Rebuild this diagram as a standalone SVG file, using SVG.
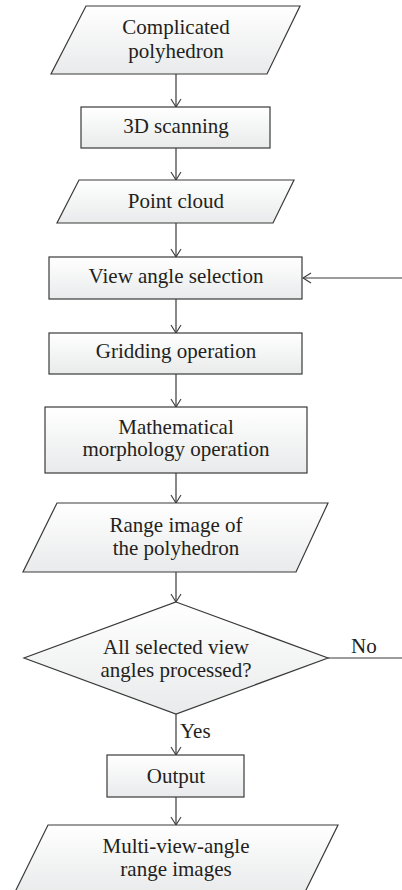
<svg xmlns="http://www.w3.org/2000/svg" width="402" height="890" viewBox="0 0 402 890">
<defs>
<linearGradient id="g" x1="0" y1="0" x2="0" y2="1">
<stop offset="0" stop-color="#ffffff"/>
<stop offset="1" stop-color="#e9eaeb"/>
</linearGradient>
<marker id="arr" viewBox="0 0 10 12" refX="9" refY="6" markerWidth="10" markerHeight="12" markerUnits="userSpaceOnUse" orient="auto">
<path d="M1,1 L9,6 L1,11" fill="none" stroke="#3a3a3a" stroke-width="1.1"/>
</marker>
</defs>
<style>
.s{fill:url(#g);stroke:#3a3a3a;stroke-width:1.2}
.t{font-family:"Liberation Serif","Times New Roman",serif;font-size:21px;fill:#231f20;text-anchor:middle}
.l{font-family:"Liberation Serif","Times New Roman",serif;font-size:21px;fill:#231f20}
.c{fill:none;stroke:#3a3a3a;stroke-width:1.2;marker-end:url(#arr)}
.n{fill:none;stroke:#3a3a3a;stroke-width:1.2}
</style>
<rect width="402" height="890" fill="#ffffff"/>
<g id="connectors">
<path class="c" d="M176,74 V107"/>
<path class="c" d="M176,148 V180"/>
<path class="c" d="M176,223 V257"/>
<path class="c" d="M176,299 V333"/>
<path class="c" d="M176,374 V407"/>
<path class="c" d="M176,473 V503"/>
<path class="c" d="M176,572 V602"/>
<path class="c" d="M176,714 V755"/>
<path class="c" d="M176,797 V825"/>
<path class="n" d="M328,658 H402"/>
<path class="c" d="M402,278 H303"/>
<text class="l" x="351" y="653">No</text>
<text class="l" x="180" y="738">Yes</text>
</g>
<g id="n1">
<polygon class="s" points="86,6 300,6 267,74 51,74"/>
<text class="t" x="176" y="34">Complicated</text>
<text class="t" x="176" y="58">polyhedron</text>
</g>
<g id="n2">
<rect class="s" x="81" y="107" width="189" height="41"/>
<text class="t" x="176" y="133">3D scanning</text>
</g>
<g id="n3">
<polygon class="s" points="79,180 294,180 273,223 57,223"/>
<text class="t" x="176" y="208">Point cloud</text>
</g>
<g id="n4">
<rect class="s" x="49" y="257" width="253" height="42"/>
<text class="t" x="176" y="283">View angle selection</text>
</g>
<g id="n5">
<rect class="s" x="49" y="333" width="253" height="41"/>
<text class="t" x="176" y="358">Gridding operation</text>
</g>
<g id="n6">
<rect class="s" x="45" y="407" width="262" height="66"/>
<text class="t" x="176" y="434">Mathematical</text>
<text class="t" x="176" y="456">morphology operation</text>
</g>
<g id="n7">
<polygon class="s" points="57,503 328,503 296,572 23,572"/>
<text class="t" x="176" y="532">Range image of</text>
<text class="t" x="176" y="555">the polyhedron</text>
</g>
<g id="n8">
<polygon class="s" points="176,602 328,658 176,714 24,658"/>
<text class="t" x="176" y="654">All selected view</text>
<text class="t" x="176" y="677">angles processed?</text>
</g>
<g id="n9">
<rect class="s" x="107" y="755" width="137" height="42"/>
<text class="t" x="176" y="783">Output</text>
</g>
<g id="n10">
<polygon class="s" points="48,825 338,825 304,894 14,894"/>
<text class="t" x="176" y="853">Multi-view-angle</text>
<text class="t" x="176" y="876">range images</text>
</g>
</svg>
